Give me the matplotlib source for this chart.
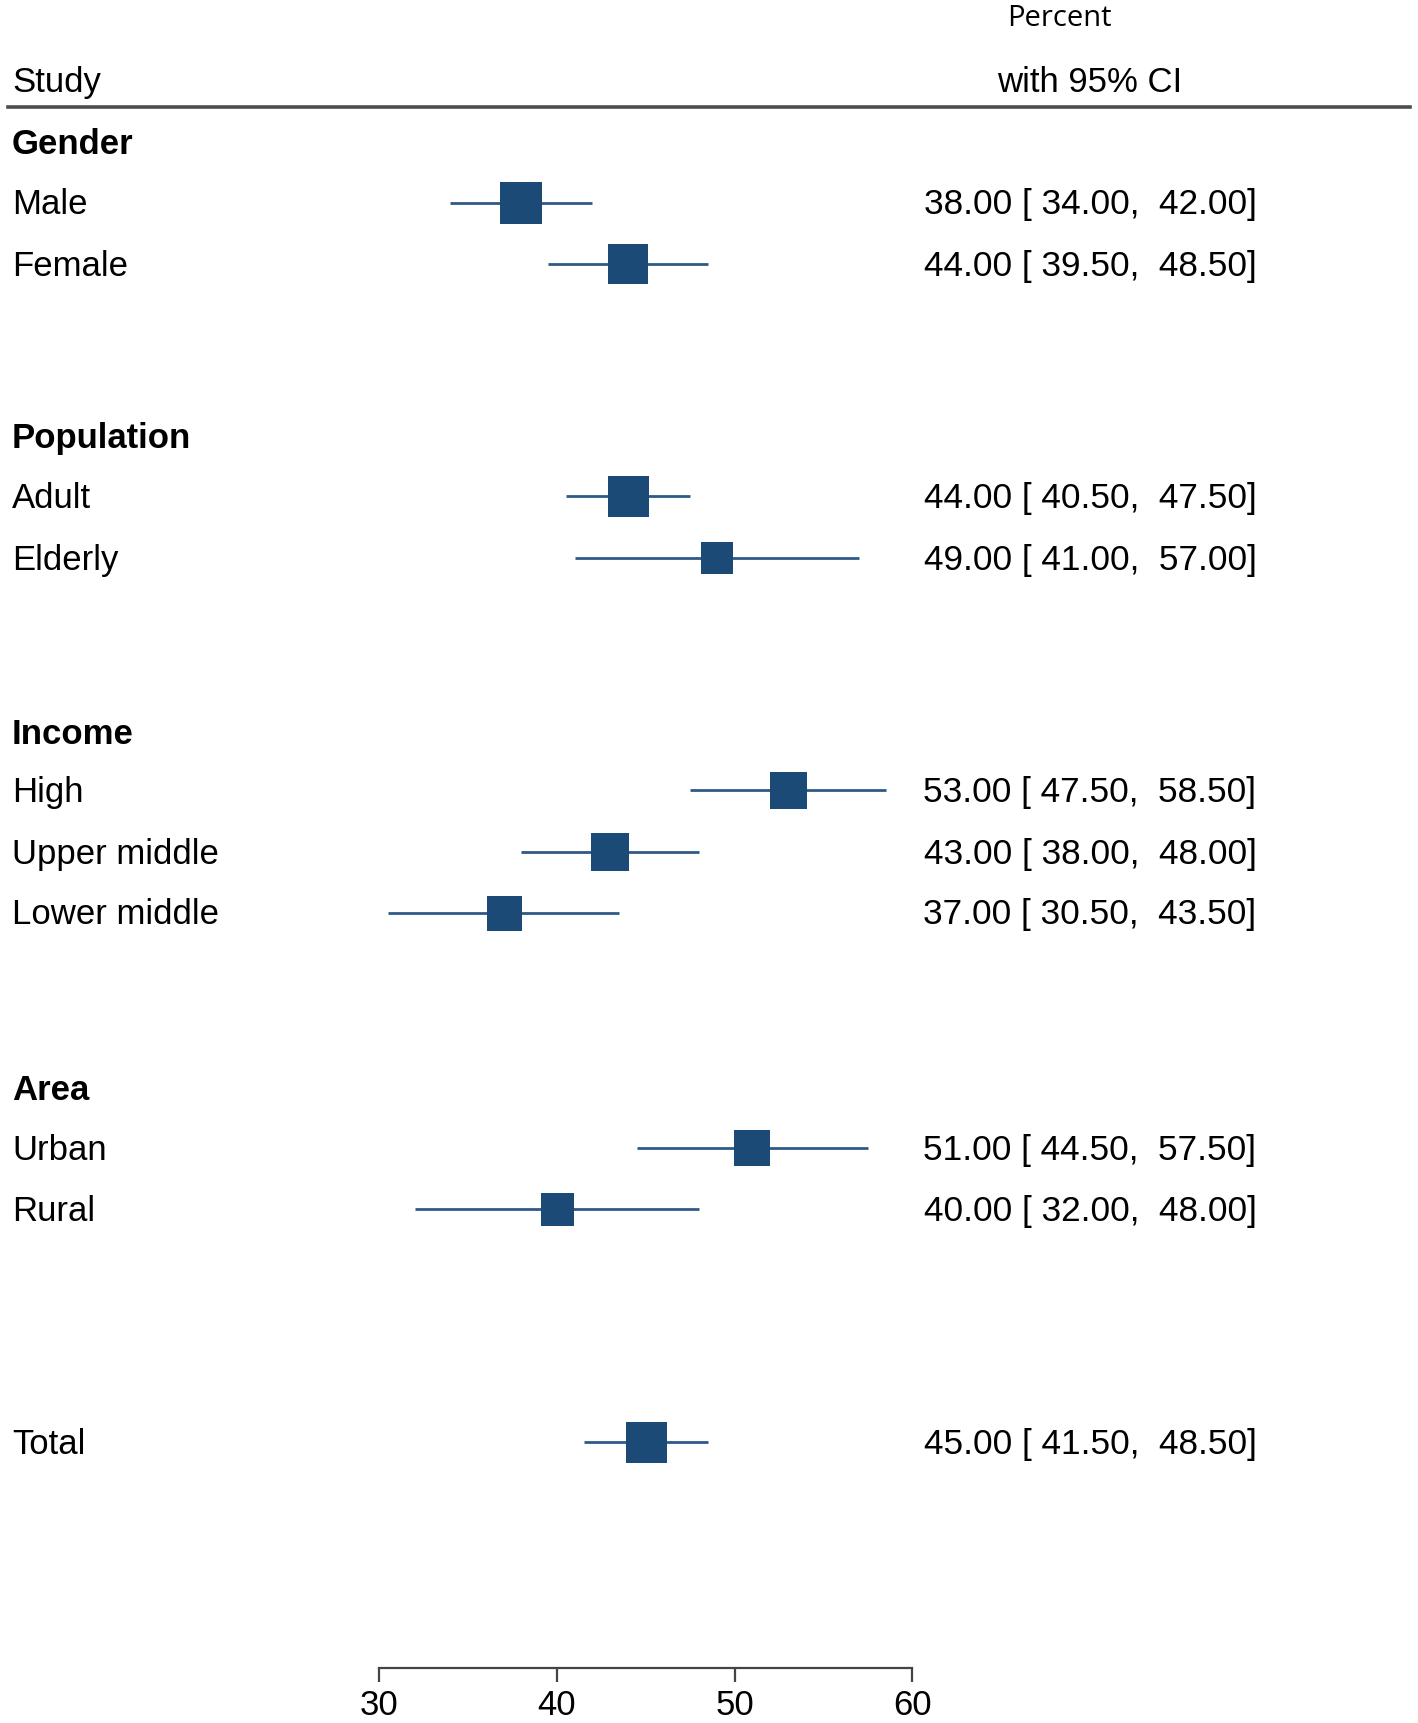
import matplotlib
matplotlib.use("Agg")
import matplotlib.pyplot as plt
import matplotlib.transforms as mtransforms

# ---- data ----
groups = ["Gender", "Population", "Income", "Area"]
labels = ["Male", "Female", "Adult", "Elderly", "High", "Upper middle",
          "Lower middle", "Urban", "Rural", "Total"]
estimates = [38.0, 44.0, 44.0, 49.0, 53.0, 43.0, 37.0, 51.0, 40.0, 45.0]
lower = [34.0, 39.5, 40.5, 41.0, 47.5, 38.0, 30.5, 44.5, 32.0, 41.5]
upper = [42.0, 48.5, 47.5, 57.0, 58.5, 48.0, 43.5, 57.5, 48.0, 48.5]
weights = [42, 40, 41, 32, 37, 38, 35, 36, 33, 41]  # relative marker sizes (px)
xticks = [30, 40, 50, 60]

# ---- layout (row units) ----
group_rows = [0.0, 4.81, 9.66, 15.48]
item_rows = [0.99, 2.0, 5.80, 6.81, 10.61, 11.62, 12.61, 16.47, 17.46, 21.28]

W, H = 1418, 1723
DW, DH = 1290.0, 1565.0  # reference display size
fig = plt.figure(figsize=(W / 100, H / 100), dpi=100)

ax_left = 345 / DW
ax_right = 830 / DW
ax_bottom = 1 - 1515 / DH
ax = fig.add_axes([ax_left, ax_bottom, ax_right - ax_left, 1 - ax_bottom])
unit = 55.5
r_top = -129 / unit
r_bot = (1515 - 129) / unit
ax.set_ylim(r_bot, r_top)
ax.set_xlim(30, 60)

col = "#1b4a77"
lcol = "#2f5a85"
for lab, est, lo, hi, w, r in zip(labels, estimates, lower, upper, weights, item_rows):
    ax.plot([lo, hi], [r, r], color=lcol, lw=2.0, solid_capstyle="butt", zorder=2)
    ax.plot([est], [r], marker="s", markersize=w * 0.72, color=col,
            markeredgewidth=0, zorder=3)

font = ["Liberation Sans", "DejaVu Sans"]
fs = 25
dy = 2.0 / unit  # small text offset downward
trans_l = mtransforms.blended_transform_factory(fig.transFigure, ax.transData)
for g, r in zip(groups, group_rows):
    ax.text(11 / DW, r + dy, g, transform=trans_l, fontsize=fs, fontweight="bold",
            family=font, va="center", ha="left", clip_on=False)
for lab, est, lo, hi, r in zip(labels, estimates, lower, upper, item_rows):
    ax.text(11 / DW, r + dy, lab, transform=trans_l, fontsize=fs, family=font,
            va="center", ha="left", clip_on=False)
    ax.text(1143 / DW, r + dy, f"{est:.2f} [ {lo:.2f},  {hi:.2f}]", transform=trans_l,
            fontsize=25.4, family=font, va="center", ha="right", clip_on=False)

# header
fig.text(11 / DW, 1 - 75 / DH, "Study", fontsize=fs, family=font, va="center", ha="left")
fig.text(991 / DW, 1 - 75 / DH, "with 95% CI", fontsize=fs, family=font, va="center", ha="center")
fig.text(964 / DW, 1 - 17 / DH, "Percent", fontsize=21, family=["Open Sans", "DejaVu Sans"],
         va="center", ha="center")
fig.add_artist(plt.Line2D([7 / DW, 1283 / DW], [1 - 97 / DH, 1 - 97 / DH],
                          transform=fig.transFigure, color="#4d4d4d", lw=2.6))

# axis
for s in ["top", "left", "right"]:
    ax.spines[s].set_visible(False)
ax.spines["bottom"].set_color("#444444")
ax.spines["bottom"].set_linewidth(1.6)
ax.spines["bottom"].set_bounds(30, 60)
ax.set_yticks([])
ax.set_xticks(xticks)
ax.set_xticklabels([str(t) for t in xticks], fontsize=fs, family=font)
ax.tick_params(axis="x", direction="out", length=10, width=1.6, color="#444444", pad=5)
ax.patch.set_alpha(0)

fig.savefig("out.png", dpi=100)
